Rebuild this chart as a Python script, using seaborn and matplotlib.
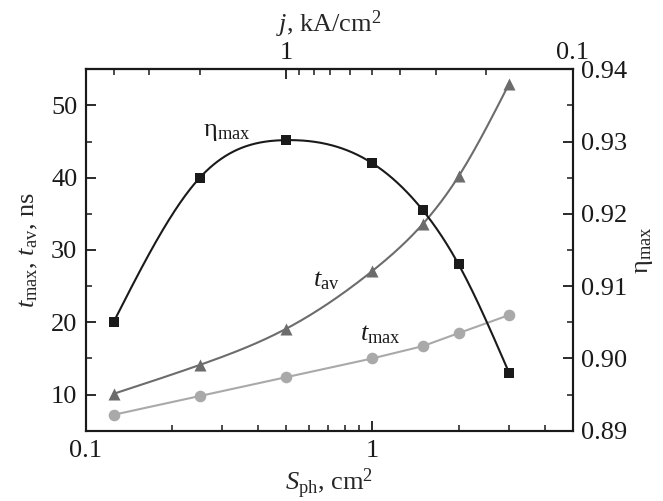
import numpy as np
import matplotlib
matplotlib.use("Agg")
import matplotlib.pyplot as plt
import matplotlib.ticker as mticker
import seaborn as sns

# Photodetector area S_ph, cm^2
area = [0.125, 0.25, 0.5, 1.0, 1.5, 2.0, 3.0]
# Average and maximum response times, ns
t_av = [10.1, 14.1, 19.1, 27.1, 33.6, 40.2, 53.0]
t_max = [7.2, 9.8, 12.4, 15.0, 16.7, 18.5, 21.0]
# Maximum efficiency
eta_max = [0.905, 0.925, 0.9302, 0.927, 0.9205, 0.913, 0.898]

# Current density on the top axis: j = current / S_ph
current = 0.5  # kA

bottom_ticks = [0.1, 1]
top_ticks = [1, 0.1]
left_ticks = [10, 20, 30, 40, 50]
right_ticks = [0.89, 0.90, 0.91, 0.92, 0.93, 0.94]

C_ETA = "#1a1a1a"
C_AV = "#6c6c6c"
C_MAX = "#a9a9a9"


def natural_spline(x, y, num=400):
    """Smooth curve through the given points (natural cubic spline)."""
    x = np.asarray(x, float)
    y = np.asarray(y, float)
    n = len(x)
    h = np.diff(x)
    A = np.zeros((n, n))
    b = np.zeros(n)
    A[0, 0] = A[-1, -1] = 1.0
    for i in range(1, n - 1):
        A[i, i - 1] = h[i - 1]
        A[i, i] = 2 * (h[i - 1] + h[i])
        A[i, i + 1] = h[i]
        b[i] = 6 * ((y[i + 1] - y[i]) / h[i] - (y[i] - y[i - 1]) / h[i - 1])
    M = np.linalg.solve(A, b)
    xs = np.linspace(x[0], x[-1], num)
    idx = np.clip(np.searchsorted(x, xs) - 1, 0, n - 2)
    x0, x1 = x[idx], x[idx + 1]
    hh = x1 - x0
    t0, t1 = x1 - xs, xs - x0
    ys = ((M[idx] * t0 ** 3 + M[idx + 1] * t1 ** 3) / (6 * hh)
          + (y[idx] / hh - M[idx] * hh / 6) * t0
          + (y[idx + 1] / hh - M[idx + 1] * hh / 6) * t1)
    return xs, ys


sns.set_theme(style="ticks")
plt.rcParams.update({
    "font.family": ["Liberation Serif", "DejaVu Serif"],
    "mathtext.fontset": "custom",
    "mathtext.rm": "Liberation Serif",
    "mathtext.it": "Liberation Serif:italic",
    "xtick.direction": "in",
    "ytick.direction": "in",
    "axes.linewidth": 1.5,
    "xtick.major.width": 1.3,
    "ytick.major.width": 1.3,
    "xtick.minor.width": 1.1,
    "ytick.minor.width": 1.1,
    "xtick.major.size": 7.2,
    "ytick.major.size": 7.2,
    "xtick.minor.size": 4.3,
    "ytick.minor.size": 4.3,
    "xtick.color": "#1a1a1a",
    "ytick.color": "#1a1a1a",
    "axes.edgecolor": "#1a1a1a",
    "text.color": "#1a1a1a",
})

FS = 19

fig = plt.figure(figsize=(6.63, 5.01), dpi=100)
ax = fig.add_axes([0.1293, 0.1403, 0.7345, 0.7214])
ax.set_xscale("log")

logS = np.log10(area)

# t_av: smooth curve with triangles
lx, ly = natural_spline(logS, t_av)
sns.lineplot(x=10 ** lx, y=ly, ax=ax, color=C_AV, lw=1.5,
             estimator=None, sort=False, zorder=3)
sns.scatterplot(x=area, y=t_av, ax=ax, marker="^", s=75, color=C_AV,
                linewidth=0, zorder=4)

# t_max: straight segments with circles
sns.lineplot(x=area, y=t_max, ax=ax, color=C_MAX, lw=1.5,
             estimator=None, sort=False, zorder=3)
sns.scatterplot(x=area, y=t_max, ax=ax, marker="o", s=70, color=C_MAX,
                linewidth=0, zorder=4)

ax.set_xlim(0.1, 5)
ax.set_ylim(5, 55)
ax.yaxis.set_major_locator(mticker.FixedLocator(left_ticks))
ax.yaxis.set_minor_locator(mticker.MultipleLocator(5))
ax.xaxis.set_major_locator(mticker.FixedLocator(bottom_ticks))
ax.xaxis.set_minor_locator(mticker.LogLocator(base=10, subs=np.arange(2, 10)))
ax.xaxis.set_major_formatter(mticker.FuncFormatter(lambda v, p: f"{v:g}"))
ax.xaxis.set_minor_formatter(mticker.NullFormatter())
ax.tick_params(axis="both", which="both", labelsize=FS)
ax.tick_params(axis="x", pad=7)
ax.tick_params(axis="y", pad=6)
ax.set_xlabel("$S_{\\rm ph}$, cm$^2$", fontsize=FS, labelpad=3)
ax.set_ylabel("$t_{\\rm max}$, $t_{\\rm av}$, ns", fontsize=FS, labelpad=8)

# Efficiency on the right axis
axr = ax.twinx()
ex, ey = natural_spline(logS, eta_max)
sns.lineplot(x=10 ** ex, y=ey, ax=axr, color=C_ETA, lw=1.5,
             estimator=None, sort=False, zorder=3)
sns.scatterplot(x=area, y=eta_max, ax=axr, marker="s", s=42, color=C_ETA,
                linewidth=0, zorder=4)
axr.set_ylim(0.89, 0.94)
axr.yaxis.set_major_locator(mticker.FixedLocator(right_ticks))
axr.yaxis.set_minor_locator(mticker.MultipleLocator(0.005))
axr.yaxis.set_major_formatter(mticker.FuncFormatter(lambda v, p: f"{v:.2f}"))
axr.tick_params(axis="y", which="both", labelsize=FS, pad=6)
axr.set_ylabel("η$_{\\rm max}$", fontsize=FS, labelpad=4)
axr.set_xlim(0.1, 5)


# Top axis: current density
def to_j(x):
    x = np.asarray(x, float)
    with np.errstate(divide="ignore", invalid="ignore"):
        return current / x


sec = ax.secondary_xaxis("top", functions=(to_j, to_j))
sec.xaxis.set_major_locator(mticker.FixedLocator(top_ticks))
sec.xaxis.set_minor_locator(mticker.LogLocator(base=10, subs=np.arange(2, 10)))
sec.xaxis.set_major_formatter(mticker.FuncFormatter(lambda v, p: f"{v:g}"))
sec.xaxis.set_minor_formatter(mticker.NullFormatter())
sec.tick_params(axis="x", which="both", direction="in", labelsize=FS, pad=4)
sec.set_xlabel("$j$, kA/cm$^2$", fontsize=FS, labelpad=7)

# Curve labels
ax.text(0.31, 46.3, "η$_{\\rm max}$", fontsize=FS, ha="center", va="center")
ax.text(0.69, 25.8, "$t_{\\rm av}$", fontsize=FS, ha="center", va="center")
ax.text(1.07, 18.3, "$t_{\\rm max}$", fontsize=FS, ha="center", va="center")

fig.savefig("out.png", dpi=100)
